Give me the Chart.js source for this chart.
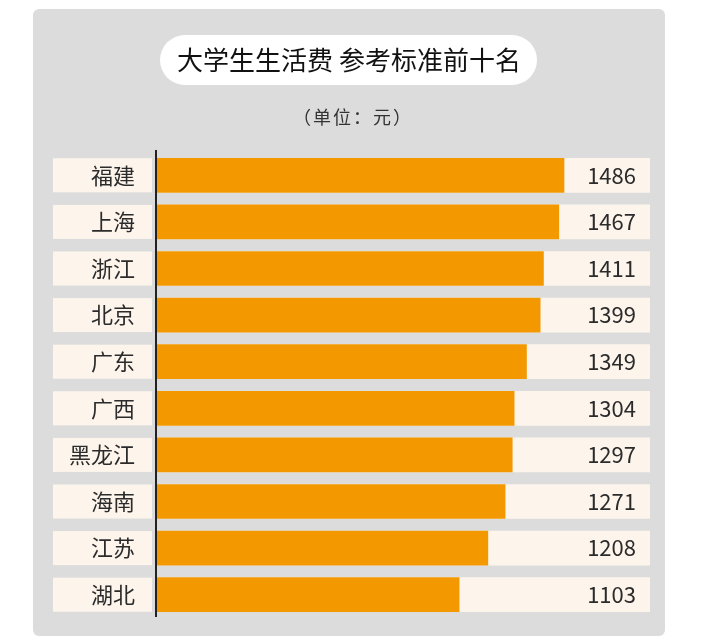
<!DOCTYPE html>
<html>
<head>
<meta charset="utf-8">
<script src="https://cdn.jsdelivr.net/npm/chart.js@4.4.1/dist/chart.umd.min.js"></script>
<style>
  html, body { margin: 0; padding: 0; background: #fff; }
</style>
</head>
<body>
<canvas id="costChart" width="708" height="644"></canvas>
<script>
// data
const provinces = ["福建", "上海", "浙江", "北京", "广东", "广西", "黑龙江", "海南", "江苏", "湖北"];
const monthlyCost = [1486, 1467, 1411, 1399, 1349, 1304, 1297, 1271, 1208, 1103];
const titleText = "大学生生活费 参考标准前十名";
const unitText = "（单位：元）";
const X_MAX = 1800;
const trackValues = provinces.map(() => X_MAX); // cream background track per row

const FONT = '"Noto Sans CJK SC", "Noto Sans", sans-serif';
const ORANGE = "#f49800";
const CREAM = "#fdf5ec";
const PANEL = "#dcdcdc";

function roundRect(ctx, x, y, w, h, r) {
  ctx.beginPath();
  ctx.roundRect(x, y, w, h, r);
  ctx.fill();
}

// panel, title pill, unit line
const backdropPlugin = {
  id: "backdrop",
  beforeDraw(chart) {
    const ctx = chart.ctx;
    ctx.save();
    ctx.fillStyle = PANEL;
    roundRect(ctx, 33, 9, 632, 627, 6);

    ctx.fillStyle = "#ffffff";
    roundRect(ctx, 160, 35, 377, 50, 25);

    ctx.fillStyle = "#111";
    ctx.font = "26px " + FONT;
    ctx.textAlign = "center";
    ctx.textBaseline = "middle";
    ctx.fillText(titleText, 349, 60);

    ctx.fillStyle = "#333";
    ctx.font = "18px " + FONT;
    ctx.letterSpacing = "2px";
    ctx.fillText(unitText, 353, 117);
    ctx.restore();
  }
};

// label boxes on the left, axis line, value text on the right
const rowsPlugin = {
  id: "rows",
  afterDatasetsDraw(chart) {
    const ctx = chart.ctx;
    const area = chart.chartArea;
    const bars = chart.getDatasetMeta(1).data;
    ctx.save();
    bars.forEach((bar, i) => {
      const h = bar.height;
      ctx.fillStyle = CREAM;
      ctx.fillRect(53, bar.y - h / 2, 99, h);

      ctx.fillStyle = "#2b2b2b";
      ctx.font = "22px " + FONT;
      ctx.textAlign = "right";
      ctx.textBaseline = "middle";
      ctx.fillText(provinces[i], 135, bar.y);

      ctx.font = "22px " + FONT;
      ctx.fillText(String(monthlyCost[i]), 636, bar.y);
    });

    ctx.strokeStyle = "#222";
    ctx.lineWidth = 2;
    ctx.beginPath();
    ctx.moveTo(area.left - 1, area.top - 2);
    ctx.lineTo(area.left - 1, area.bottom - 1);
    ctx.stroke();
    ctx.restore();
  }
};

new Chart(document.getElementById("costChart"), {
  type: "bar",
  data: {
    labels: provinces,
    datasets: [
      {
        data: trackValues,
        backgroundColor: CREAM,
        barThickness: 34,
        grouped: false,
        order: 2
      },
      {
        data: monthlyCost,
        backgroundColor: ORANGE,
        barThickness: 34,
        grouped: false,
        order: 1
      }
    ]
  },
  options: {
    indexAxis: "y",
    responsive: false,
    animation: false,
    layout: { padding: { left: 157, right: 58, top: 152, bottom: 26 } },
    scales: {
      x: { display: false, min: 0, max: X_MAX },
      y: { display: false }
    },
    plugins: {
      legend: { display: false },
      tooltip: { enabled: false }
    }
  },
  plugins: [backdropPlugin, rowsPlugin]
});
</script>
</body>
</html>
